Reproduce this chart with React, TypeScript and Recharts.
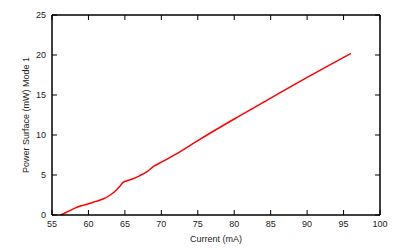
import React from 'react';
import { LineChart, Line, XAxis, YAxis, Label } from 'recharts';

const currentMA = [56.2, 57, 58, 59, 60, 61, 62, 63, 63.8, 64.4, 64.8, 65.2, 66, 67, 68, 69, 70, 72, 75, 80, 85, 90, 96];
const powerMW = [0, 0.35, 0.8, 1.15, 1.4, 1.7, 2.0, 2.5, 3.1, 3.7, 4.1, 4.25, 4.5, 4.9, 5.4, 6.1, 6.6, 7.6, 9.3, 12.0, 14.6, 17.2, 20.2];
const xTicks = [55, 60, 65, 70, 75, 80, 85, 90, 95, 100];
const yTicks = [0, 5, 10, 15, 20, 25];

const data = currentMA.map((c, i) => ({ current: c, power: powerMW[i] }));

const font = { fontFamily: '"Liberation Sans", Arial, sans-serif', fontSize: 9, fill: '#222' };
const emptyTick = () => <g />;

export default function App() {
  return (
    <div style={{ position: 'absolute', left: 0, top: 0 }}>
      <LineChart width={400} height={250} data={data} margin={{ top: 14, right: 19, left: 0, bottom: 0 }}>
        <XAxis
          xAxisId="b"
          dataKey="current"
          type="number"
          domain={[55, 100]}
          ticks={xTicks}
          height={35}
          tickSize={-5}
          tickMargin={11}
          axisLine={{ stroke: '#000', strokeWidth: 1.5 }}
          tickLine={{ stroke: '#000' }}
          tick={font}
          allowDataOverflow
        >
          <Label value="Current (mA)" position="center" dy={6} style={font} />
        </XAxis>
        <XAxis
          xAxisId="t"
          orientation="top"
          dataKey="current"
          type="number"
          domain={[55, 100]}
          ticks={xTicks}
          height={1}
          tickSize={-5}
          axisLine={{ stroke: '#000', strokeWidth: 1.5 }}
          tickLine={{ stroke: '#000' }}
          tick={emptyTick}
        />
        <YAxis
          yAxisId="l"
          type="number"
          domain={[0, 25]}
          ticks={yTicks}
          width={52}
          tickSize={-5}
          tickMargin={11}
          axisLine={{ stroke: '#000', strokeWidth: 1.5 }}
          tickLine={{ stroke: '#000' }}
          tick={font}
        >
          <Label value="Power Surface (mW) Mode 1" angle={-90} position="center" style={font} />
        </YAxis>
        <YAxis
          yAxisId="r"
          orientation="right"
          type="number"
          domain={[0, 25]}
          ticks={yTicks}
          width={1}
          tickSize={-5}
          axisLine={{ stroke: '#000', strokeWidth: 1.5 }}
          tickLine={{ stroke: '#000' }}
          tick={emptyTick}
        />
        <Line
          xAxisId="b"
          yAxisId="l"
          dataKey="power"
          type="monotone"
          stroke="#ff0000"
          strokeWidth={1.5}
          dot={false}
          isAnimationActive={false}
        />
        <Line
          xAxisId="t"
          yAxisId="r"
          dataKey="power"
          type="monotone"
          stroke="none"
          dot={false}
          activeDot={false}
          legendType="none"
          isAnimationActive={false}
        />
      </LineChart>
    </div>
  );
}
